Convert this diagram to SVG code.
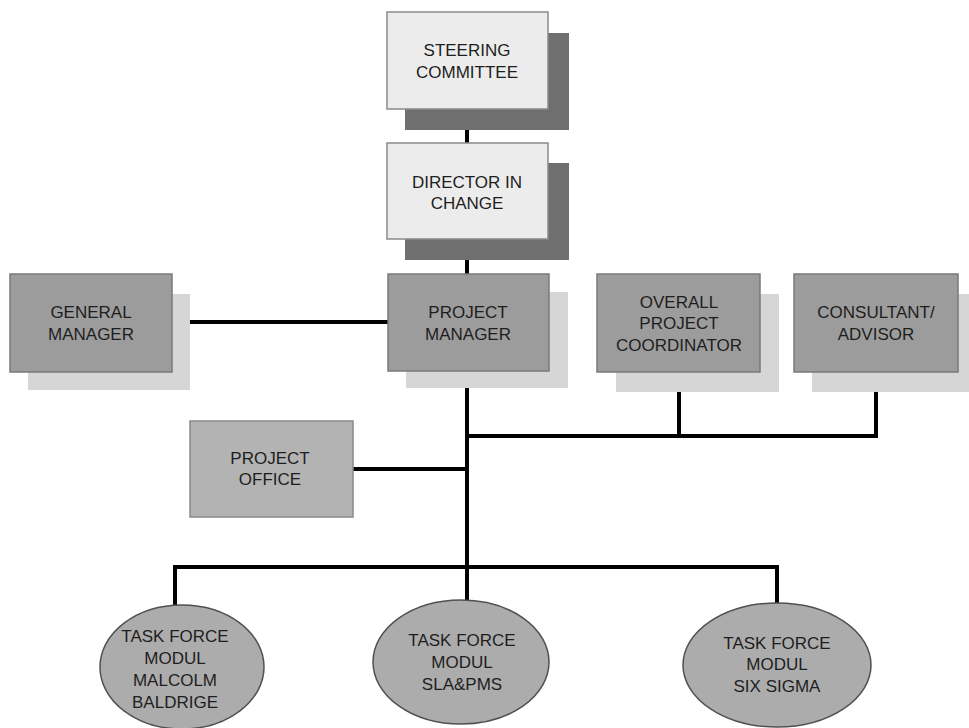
<svg xmlns="http://www.w3.org/2000/svg" width="969" height="728" viewBox="0 0 969 728">
<style>
text{font-family:"Liberation Sans",Arial,sans-serif;font-size:17px;fill:#1e1e1e;text-anchor:middle}
.lt{fill:#ececec;stroke:#8a8a8a;stroke-width:1.5}
.dk{fill:#9c9c9c;stroke:#7a7a7a;stroke-width:1.5}
.po{fill:#b3b3b3;stroke:#8a8a8a;stroke-width:1.5}
.sd{fill:#6f6f6f}
.sl{fill:#d6d6d6}
.el{fill:#acacac;stroke:#505050;stroke-width:1.5}
.c{stroke:#000;stroke-width:4;fill:none}
</style>
<rect width="969" height="728" fill="#fff"/>
<g id="connectors">
<line class="c" x1="467" y1="109" x2="467" y2="143"/>
<line class="c" x1="467" y1="239" x2="467" y2="274"/>
<line class="c" x1="172" y1="322" x2="388" y2="322"/>
<line class="c" x1="467" y1="370" x2="467" y2="600"/>
<line class="c" x1="353" y1="469" x2="467" y2="469"/>
<polyline class="c" points="467,436 876,436 876,372"/>
<line class="c" x1="679" y1="372" x2="679" y2="436"/>
<polyline class="c" points="175,608 175,567 777,567 777,603"/>
</g>
<g id="steering">
<rect class="sd" x="405" y="33" width="164" height="97"/>
<rect class="lt" x="387" y="12" width="161" height="97"/>
<text x="467" y="56">STEERING</text>
<text x="467" y="78">COMMITTEE</text>
</g>
<g id="director">
<rect class="sd" x="405" y="163" width="164" height="97"/>
<rect class="lt" x="387" y="143" width="161" height="96"/>
<text x="467" y="188">DIRECTOR IN</text>
<text x="467" y="209">CHANGE</text>
</g>
<g id="general">
<rect class="sl" x="28" y="294" width="162" height="96"/>
<rect class="dk" x="10" y="274" width="162" height="98"/>
<text x="91" y="318">GENERAL</text>
<text x="91" y="340">MANAGER</text>
</g>
<g id="pm">
<rect class="sl" x="406" y="292" width="162" height="96"/>
<rect class="dk" x="388" y="274" width="161" height="97"/>
<text x="468" y="318">PROJECT</text>
<text x="468" y="340">MANAGER</text>
</g>
<g id="opc">
<rect class="sl" x="616" y="294" width="163" height="98"/>
<rect class="dk" x="597" y="274" width="163" height="98"/>
<text x="679" y="308">OVERALL</text>
<text x="679" y="329">PROJECT</text>
<text x="679" y="351">COORDINATOR</text>
</g>
<g id="consultant">
<rect class="sl" x="812" y="294" width="157" height="98"/>
<rect class="dk" x="794" y="274" width="164" height="98"/>
<text x="876" y="318">CONSULTANT/</text>
<text x="876" y="340">ADVISOR</text>
</g>
<g id="office">
<rect class="po" x="190" y="421" width="163" height="96"/>
<text x="270" y="464">PROJECT</text>
<text x="270" y="485">OFFICE</text>
</g>
<g id="malcolm">
<ellipse class="el" cx="182" cy="667" rx="82" ry="62"/>
<text x="175" y="642">TASK FORCE</text>
<text x="175" y="664">MODUL</text>
<text x="175" y="686">MALCOLM</text>
<text x="175" y="708">BALDRIGE</text>
</g>
<g id="sla">
<ellipse class="el" cx="461" cy="662" rx="88" ry="62"/>
<text x="462" y="646">TASK FORCE</text>
<text x="462" y="668">MODUL</text>
<text x="462" y="690">SLA&amp;PMS</text>
</g>
<g id="sixsigma">
<ellipse class="el" cx="777" cy="665" rx="94" ry="62"/>
<text x="777" y="649">TASK FORCE</text>
<text x="777" y="670">MODUL</text>
<text x="777" y="692">SIX SIGMA</text>
</g>
</svg>
